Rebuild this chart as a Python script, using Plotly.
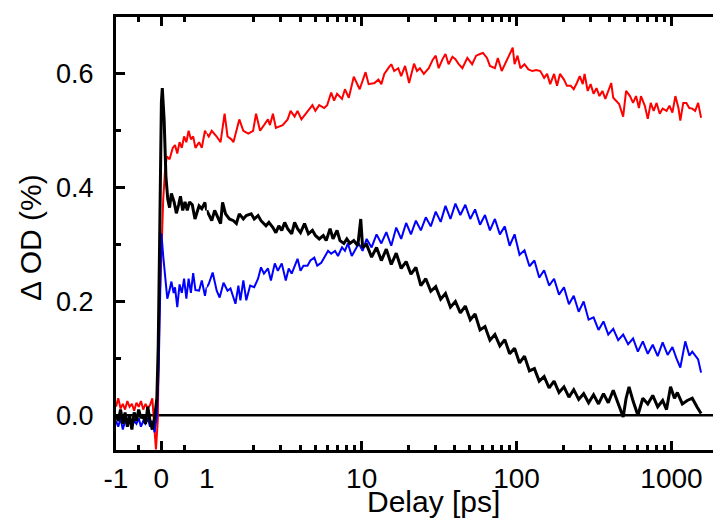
import numpy as np
import plotly.graph_objects as go

# ---------------- data: linear part of the delay axis (-1 .. 1 ps) ----------------
red_lin_delay = [-1.0, -0.95, -0.9, -0.85, -0.8, -0.75, -0.7, -0.65, -0.6, -0.55, -0.5, -0.45, -0.4,
                 -0.35, -0.3, -0.25, -0.2, -0.15, -0.12, -0.08, -0.04, 0.0, 0.04, 0.08, 0.12, 0.18,
                 0.25, 0.3, 0.35, 0.4, 0.45, 0.5, 0.55, 0.6, 0.65, 0.7, 0.75, 0.83, 0.89, 0.96, 1.0]
red_lin_od = [0.015, 0.03, 0.012, 0.02, 0.01, 0.025, 0.015, 0.02, 0.008, 0.022, 0.015, 0.025, 0.01,
              0.02, 0.012, 0.018, 0.03, -0.02, -0.06, -0.01, 0.2, 0.28, 0.38, 0.43, 0.455, 0.45,
              0.47, 0.475, 0.46, 0.48, 0.47, 0.49, 0.48, 0.50, 0.485, 0.49, 0.47, 0.48, 0.47, 0.50, 0.495]

blue_lin_delay = [-1.0, -0.95, -0.9, -0.85, -0.8, -0.75, -0.7, -0.65, -0.6, -0.55, -0.5, -0.45, -0.4,
                  -0.35, -0.3, -0.25, -0.2, -0.15, -0.1, -0.06, -0.03, 0.0, 0.04, 0.08, 0.13, 0.18,
                  0.22, 0.27, 0.3, 0.35, 0.4, 0.45, 0.5, 0.55, 0.6, 0.65, 0.7, 0.75, 0.83, 0.89, 0.96, 1.0]
blue_lin_od = [-0.01, -0.02, -0.005, -0.025, -0.01, -0.015, -0.005, -0.02, -0.01, -0.015, -0.005, -0.02,
               -0.01, -0.015, -0.005, -0.02, -0.01, -0.03, 0.0, 0.08, 0.2, 0.32, 0.28, 0.24, 0.205, 0.22,
               0.235, 0.215, 0.225, 0.19, 0.23, 0.215, 0.24, 0.205, 0.24, 0.215, 0.25, 0.22, 0.219, 0.237,
               0.21, 0.225]

black_lin_delay = [-1.0, -0.95, -0.9, -0.85, -0.8, -0.75, -0.7, -0.65, -0.6, -0.55, -0.5, -0.45, -0.4,
                   -0.35, -0.3, -0.25, -0.2, -0.15, -0.1, -0.07, -0.04, -0.02, 0.0, 0.02, 0.06, 0.1,
                   0.14, 0.18, 0.22, 0.28, 0.33, 0.38, 0.42, 0.47, 0.52, 0.57, 0.62, 0.68, 0.74, 0.83,
                   0.89, 0.96, 1.0]
black_lin_od = [0.0, -0.01, 0.01, -0.015, 0.005, -0.02, 0.0, -0.025, 0.005, -0.01, 0.01, -0.005, 0.0,
                -0.015, 0.015, -0.01, -0.025, -0.005, 0.03, 0.12, 0.3, 0.45, 0.55, 0.575, 0.52, 0.42,
                0.38, 0.365, 0.39, 0.375, 0.355, 0.37, 0.385, 0.36, 0.375, 0.36, 0.375, 0.37, 0.345,
                0.368, 0.363, 0.374, 0.36]

# ---------------- data: logarithmic part (1 .. ~1800 ps), delays given as log10(ps) ----------------
red_log10_delay = [0.0, 0.013, 0.032, 0.064, 0.089, 0.115, 0.134, 0.159, 0.172, 0.210, 0.236, 0.268, 0.299,
                   0.318, 0.344, 0.369, 0.395, 0.408, 0.427, 0.446, 0.490, 0.522, 0.541, 0.567, 0.586,
                   0.611, 0.650, 0.682, 0.701, 0.726, 0.758, 0.777, 0.803, 0.822, 0.841, 0.873, 0.892,
                   0.917, 0.949, 0.968, 0.987, 1.025, 1.045, 1.083, 1.108, 1.127, 1.146, 1.172, 1.191,
                   1.210, 1.236, 1.255, 1.280, 1.293, 1.306, 1.338, 1.357, 1.376, 1.401, 1.433, 1.459,
                   1.478, 1.497, 1.522, 1.541, 1.561, 1.586, 1.605, 1.624, 1.650, 1.682, 1.713, 1.739,
                   1.764, 1.783, 1.809, 1.828, 1.860, 1.879, 1.904, 1.924, 1.943, 1.962, 1.975, 1.987,
                   2.006, 2.025, 2.051, 2.076, 2.102, 2.127, 2.153, 2.178, 2.197, 2.217, 2.242, 2.261,
                   2.280, 2.306, 2.325, 2.350, 2.369, 2.389, 2.408, 2.427, 2.439, 2.459, 2.478, 2.497,
                   2.516, 2.535, 2.554, 2.573, 2.592, 2.611, 2.624, 2.643, 2.662, 2.688, 2.707, 2.732,
                   2.752, 2.771, 2.790, 2.803, 2.828, 2.847, 2.866, 2.885, 2.904, 2.924, 2.943, 2.968,
                   2.987, 3.006, 3.025, 3.045, 3.057, 3.076, 3.096, 3.115, 3.134, 3.153, 3.172, 3.191]
red_log_od = [0.495, 0.49, 0.50, 0.49, 0.48, 0.53, 0.49, 0.485, 0.48, 0.52, 0.50, 0.495, 0.50,
              0.53, 0.50, 0.51, 0.52, 0.51, 0.53, 0.505, 0.51, 0.52, 0.535, 0.525, 0.535,
              0.52, 0.535, 0.545, 0.535, 0.545, 0.54, 0.545, 0.567, 0.553, 0.565, 0.556, 0.573,
              0.558, 0.595, 0.584, 0.573, 0.603, 0.582, 0.584, 0.59, 0.582, 0.60, 0.61, 0.617,
              0.605, 0.61, 0.596, 0.614, 0.60, 0.584, 0.618, 0.605, 0.61, 0.60, 0.61, 0.625,
              0.632, 0.61, 0.626, 0.635, 0.617, 0.63, 0.626, 0.618, 0.61, 0.628, 0.617, 0.632,
              0.635, 0.637, 0.628, 0.614, 0.61, 0.628, 0.605, 0.617, 0.628, 0.637, 0.646, 0.617,
              0.632, 0.61, 0.617, 0.608, 0.605, 0.607, 0.605, 0.593, 0.60, 0.582, 0.60, 0.579,
              0.60, 0.59, 0.579, 0.579, 0.573, 0.584, 0.596, 0.582, 0.60, 0.57, 0.582, 0.565,
              0.575, 0.561, 0.57, 0.556, 0.57, 0.584, 0.558, 0.553, 0.547, 0.525, 0.57, 0.561,
              0.549, 0.561, 0.54, 0.561, 0.544, 0.521, 0.549, 0.535, 0.549, 0.53, 0.539, 0.535,
              0.544, 0.532, 0.561, 0.54, 0.518, 0.549, 0.549, 0.54, 0.539, 0.535, 0.549, 0.523]

blue_log10_delay = [0.0, 0.013, 0.038, 0.064, 0.083, 0.108, 0.134, 0.153, 0.172, 0.185, 0.204, 0.217,
                    0.236, 0.255, 0.280, 0.306, 0.331, 0.350, 0.369, 0.395, 0.414, 0.439, 0.459, 0.484,
                    0.510, 0.529, 0.548, 0.567, 0.586, 0.605, 0.624, 0.650, 0.669, 0.694, 0.713, 0.739,
                    0.764, 0.783, 0.803, 0.828, 0.847, 0.873, 0.892, 0.911, 0.936, 0.955, 0.981, 1.006,
                    1.032, 1.064, 1.096, 1.127, 1.159, 1.191, 1.223, 1.255, 1.287, 1.318, 1.350, 1.382,
                    1.414, 1.446, 1.478, 1.510, 1.541, 1.573, 1.605, 1.637, 1.669, 1.701, 1.732, 1.764,
                    1.796, 1.828, 1.860, 1.892, 1.924, 1.955, 1.987, 2.019, 2.051, 2.083, 2.115, 2.146,
                    2.178, 2.210, 2.242, 2.274, 2.306, 2.338, 2.369, 2.401, 2.433, 2.465, 2.497, 2.529,
                    2.561, 2.592, 2.624, 2.656, 2.688, 2.720, 2.752, 2.783, 2.815, 2.847, 2.879, 2.911,
                    2.943, 2.975, 3.006, 3.032, 3.057, 3.089, 3.115, 3.134, 3.172, 3.191]
blue_log_od = [0.225, 0.231, 0.251, 0.219, 0.207, 0.233, 0.219, 0.223, 0.207, 0.196, 0.228, 0.202,
               0.237, 0.202, 0.228, 0.225, 0.24, 0.26, 0.249, 0.258, 0.237, 0.267, 0.254, 0.267,
               0.237, 0.258, 0.249, 0.263, 0.275, 0.254, 0.263, 0.263, 0.272, 0.277, 0.263, 0.268,
               0.28, 0.289, 0.284, 0.289, 0.28, 0.295, 0.289, 0.302, 0.28, 0.289, 0.302, 0.289,
               0.31, 0.295, 0.318, 0.302, 0.322, 0.298, 0.33, 0.31, 0.338, 0.318, 0.342, 0.325,
               0.348, 0.332, 0.358, 0.34, 0.368, 0.345, 0.372, 0.352, 0.37, 0.345, 0.362, 0.335,
               0.352, 0.325, 0.345, 0.318, 0.332, 0.298, 0.318, 0.282, 0.29, 0.262, 0.272, 0.242,
               0.255, 0.228, 0.24, 0.212, 0.225, 0.195, 0.21, 0.182, 0.2, 0.168, 0.172, 0.15,
               0.165, 0.142, 0.152, 0.132, 0.142, 0.125, 0.135, 0.112, 0.13, 0.108, 0.124, 0.104,
               0.128, 0.106, 0.12, 0.1, 0.084, 0.13, 0.105, 0.112, 0.098, 0.075]

black_log10_delay = [0.0, 0.006, 0.032, 0.051, 0.076, 0.089, 0.102, 0.121, 0.146, 0.172, 0.191, 0.210,
                     0.236, 0.255, 0.287, 0.306, 0.331, 0.350, 0.382, 0.401, 0.427, 0.446, 0.465, 0.484,
                     0.503, 0.522, 0.548, 0.567, 0.586, 0.605, 0.631, 0.656, 0.682, 0.701, 0.726, 0.752,
                     0.771, 0.796, 0.815, 0.841, 0.860, 0.885, 0.904, 0.924, 0.949, 0.975, 0.994, 1.006,
                     1.032, 1.064, 1.096, 1.127, 1.159, 1.191, 1.223, 1.255, 1.287, 1.318, 1.350, 1.382,
                     1.414, 1.446, 1.478, 1.510, 1.541, 1.573, 1.605, 1.637, 1.669, 1.701, 1.732, 1.764,
                     1.796, 1.828, 1.860, 1.892, 1.924, 1.955, 1.987, 2.019, 2.051, 2.083, 2.115, 2.146,
                     2.178, 2.210, 2.242, 2.274, 2.306, 2.338, 2.369, 2.401, 2.433, 2.465, 2.497, 2.529,
                     2.561, 2.592, 2.624, 2.656, 2.688, 2.707, 2.726, 2.752, 2.783, 2.815, 2.847, 2.879,
                     2.911, 2.943, 2.968, 2.994, 3.019, 3.038, 3.070, 3.102, 3.134, 3.166, 3.191]
black_log_od = [0.36, 0.356, 0.342, 0.36, 0.345, 0.337, 0.374, 0.354, 0.345, 0.342, 0.337, 0.354,
                0.345, 0.351, 0.354, 0.345, 0.351, 0.342, 0.333, 0.339, 0.33, 0.321, 0.333, 0.325,
                0.339, 0.328, 0.319, 0.339, 0.328, 0.321, 0.337, 0.319, 0.325, 0.316, 0.31, 0.316,
                0.307, 0.328, 0.31, 0.325, 0.307, 0.302, 0.31, 0.302, 0.307, 0.298, 0.345, 0.295,
                0.30, 0.278, 0.295, 0.272, 0.292, 0.265, 0.285, 0.258, 0.27, 0.248, 0.26, 0.228,
                0.24, 0.218, 0.226, 0.204, 0.214, 0.19, 0.2, 0.18, 0.192, 0.168, 0.178, 0.15,
                0.156, 0.132, 0.142, 0.122, 0.133, 0.108, 0.118, 0.092, 0.104, 0.078, 0.082, 0.06,
                0.068, 0.048, 0.06, 0.04, 0.05, 0.032, 0.045, 0.028, 0.038, 0.022, 0.036, 0.02,
                0.038, 0.022, 0.044, 0.02, -0.003, 0.03, 0.05, 0.025, 0.0, 0.03, 0.02, 0.035,
                0.015, 0.026, 0.01, 0.05, 0.03, 0.04, 0.02, 0.026, 0.03, 0.014, 0.003]

y_tick_vals = [0.0, 0.2, 0.4, 0.6]
y_tick_text = ["0.0", "0.2", "0.4", "0.6"]
lin_tick_vals = [-1, 0, 1]
lin_tick_text = ["-1", "0", "1"]
log_tick_vals = [10, 100, 1000]
log_tick_text = ["10", "100", "1000"]

# ---------------- figure ----------------
FONT = "Liberation Sans, Arial, sans-serif"
fig = go.Figure()

series = [
    (red_lin_delay, red_lin_od, red_log10_delay, red_log_od, "#FF0000", 2.0),
    (blue_lin_delay, blue_lin_od, blue_log10_delay, blue_log_od, "#0000FF", 2.0),
    (black_lin_delay, black_lin_od, black_log10_delay, black_log_od, "#000000", 3.0),
]
for tl, vl, lg, vg, col, w in series:
    fig.add_trace(go.Scatter(x=tl, y=vl, xaxis="x", yaxis="y", mode="lines",
                             line=dict(color=col, width=w), showlegend=False))
    fig.add_trace(go.Scatter(x=np.power(10.0, np.array(lg)), y=vg, xaxis="x2", yaxis="y",
                             mode="lines", line=dict(color=col, width=w), showlegend=False))

split = 92 / 605
common = dict(showline=True, linecolor="black", linewidth=3, mirror="ticks", ticks="inside",
              ticklen=9, tickwidth=2.5, tickcolor="black", showgrid=False, zeroline=False,
              ticklabelstandoff=1,
              tickfont=dict(family=FONT, size=28, color="black"), anchor="y")

fig.update_layout(
    width=721, height=524,
    margin=dict(l=116, r=0, t=17, b=74),
    paper_bgcolor="white", plot_bgcolor="white",
    xaxis=dict(domain=[0, split], range=[-1, 1], tickmode="array",
               tickvals=lin_tick_vals, ticktext=lin_tick_text,
               minor=dict(tickmode="array", tickvals=[-0.5, 0.5], ticks="inside", ticklen=5,
                          tickwidth=2.5, tickcolor="black", showgrid=False),
               **common),
    xaxis2=dict(domain=[split, 1], type="log", range=[0, 3.268], tickmode="array",
                tickvals=log_tick_vals, ticktext=log_tick_text,
                minor=dict(tickmode="array",
                           tickvals=[2, 3, 4, 5, 6, 7, 8, 9, 20, 30, 40, 50, 60, 70, 80, 90,
                                     200, 300, 400, 500, 600, 700, 800, 900],
                           ticks="inside", ticklen=5, tickwidth=2.5, tickcolor="black", showgrid=False),
                **common),
    yaxis=dict(domain=[0, 1], range=[-0.061, 0.70], tickmode="array", tickvals=y_tick_vals,
               ticktext=y_tick_text, showline=True, linecolor="black", linewidth=3, mirror=False,
               ticks="inside", ticklen=9, tickwidth=2.5, tickcolor="black", showgrid=False,
               zeroline=False, anchor="x", ticklabelstandoff=14,
               minor=dict(tickmode="array", tickvals=[0.1, 0.3, 0.5], ticks="inside", ticklen=5,
                          tickwidth=2.5, tickcolor="black", showgrid=False),
               tickfont=dict(family=FONT, size=27, color="black")),
    shapes=[dict(type="line", xref="paper", x0=0, x1=1, yref="y", y0=0, y1=0,
                 line=dict(color="black", width=2.5), layer="below")],
    annotations=[
        dict(text="Delay [ps]", xref="paper", yref="paper", x=0.531, y=-0.12,
             showarrow=False, xanchor="center", yanchor="middle",
             font=dict(family=FONT, size=30, color="black")),
        dict(text="Δ OD (%)", xref="paper", yref="paper", x=-0.142, y=0.49, textangle=-90,
             showarrow=False, xanchor="center", yanchor="middle",
             font=dict(family=FONT, size=30, color="black")),
    ],
)

fig.write_html("out.html")
